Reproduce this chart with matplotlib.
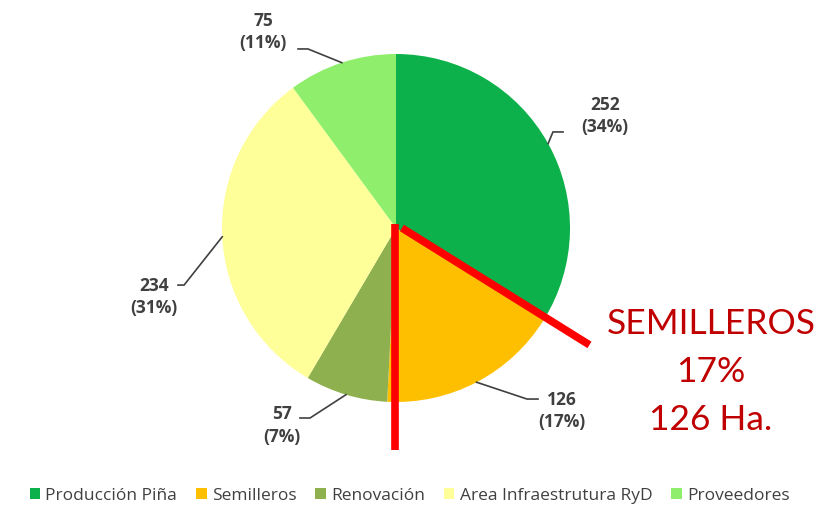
import numpy as np
import matplotlib.pyplot as plt

categories = ["Producción Piña", "Semilleros", "Renovación",
              "Area Infraestrutura RyD", "Proveedores"]
hectares = [252, 126, 57, 234, 75]
percents = [34, 17, 7, 31, 11]
colors = ["#0db14b", "#fdbf00", "#8fb04f", "#ffff99", "#8fef6c"]

# label layout, in pie units (radius = 1): elbow, end of short horizontal, text centre
elbows = [(0.902, 0.552), (0.753, -0.983), (-0.494, -1.092), (-1.218, -0.328), (-0.506, 1.029)]
hends = [(0.960, 0.552), (0.816, -0.983), (-0.552, -1.092), (-1.253, -0.328), (-0.563, 1.029)]
text_pos = [(1.20, 0.645), (0.955, -1.05), (-0.655, -1.135), (-1.39, -0.395), (-0.765, 1.125)]

R_PX = 174.0
CX, CY = 396.0, 228.0
W, H = 836, 509

fig = plt.figure(figsize=(W / 100, H / 100), dpi=100)
ax = fig.add_axes([0, 0, 1, 1])

wedges, _ = ax.pie(hectares, colors=colors, startangle=90, counterclock=False,
                   radius=1.0, frame=True)
ax.set_xlim(-CX / R_PX, (W - CX) / R_PX)
ax.set_ylim(-(H - CY) / R_PX, CY / R_PX)
ax.set_aspect("auto")
ax.axis("off")

for w, v, p, el, he, tp in zip(wedges, hectares, percents, elbows, hends, text_pos):
    mid = np.deg2rad((w.theta1 + w.theta2) / 2)
    edge = (np.cos(mid), np.sin(mid))
    ax.plot([edge[0], el[0], he[0]], [edge[1], el[1], he[1]],
            color="#404040", lw=1.2, solid_joinstyle="miter")
    ax.text(tp[0], tp[1], f"{v}\n({p}%)", ha="center", va="center",
            multialignment="center", fontsize=12.5, fontweight="bold",
            color="#404040", family="Open Sans", linespacing=1.3)

# red highlight of the Semilleros slice
ax.plot([-0.006, -0.006], [0.023, -1.276], color="#ff0000", lw=5.5,
        solid_capstyle="butt")
b = np.deg2rad(wedges[0].theta1)
ax.plot([0.034, 0.034 + 1.27 * np.cos(b)], [0.0, 1.27 * np.sin(b)],
        color="#ff0000", lw=5.5, solid_capstyle="butt")

fig.text(711 / W, 1 - 372 / H, "SEMILLEROS\n17%\n126 Ha.", ha="center", va="center",
         fontsize=25.5, color="#c00000", family="Lato", linespacing=1.62)

leg = ax.legend(wedges, categories, loc="center", bbox_to_anchor=(0.49, 0.026),
                bbox_transform=fig.transFigure, ncol=5, frameon=False,
                handlelength=0.6, handleheight=0.6, handletextpad=0.3,
                columnspacing=1.1, prop={"family": "Open Sans", "size": 12.5})
for t in leg.get_texts():
    t.set_color("#404040")

fig.savefig("out.png", dpi=100)
